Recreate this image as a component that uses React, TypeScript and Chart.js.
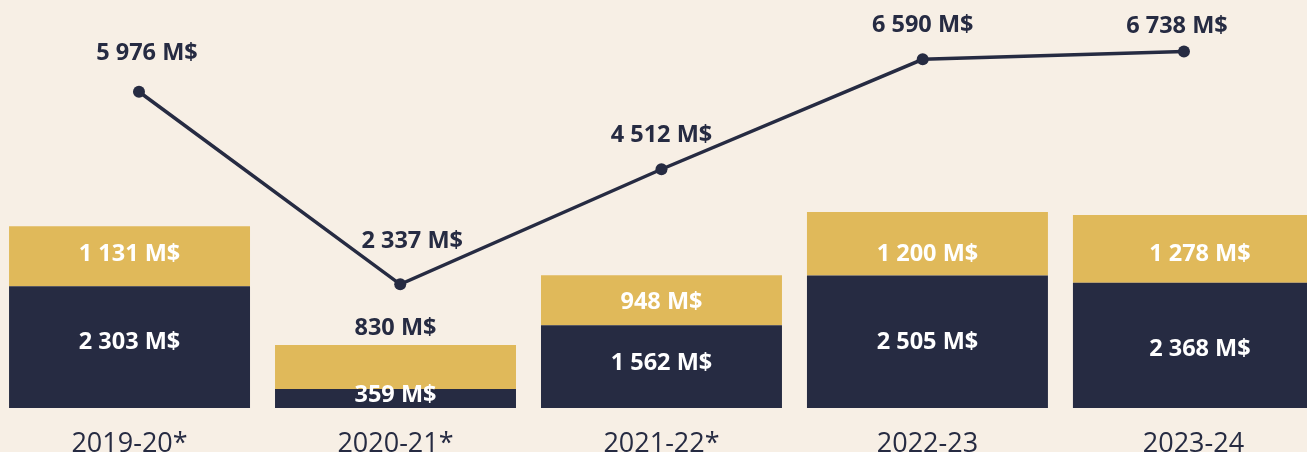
import React, { useEffect, useRef } from "react";
import { Chart, registerables } from "chart.js";

Chart.register(...registerables);

const categories = ["2019-20*", "2020-21*", "2021-22*", "2022-23", "2023-24"];
const baseValues = [2303, 359, 1562, 2505, 2368];
const topValues = [1131, 830, 948, 1200, 1278];
const totalValues = [5976, 2337, 4512, 6590, 6738];

const NAVY = "#262B42";
const GOLD = "#E0B95A";
const BG = "#F7EFE5";
const FONT = "'Open Sans', 'Noto Sans', sans-serif";

// label nudges (style only, in px)
const TEXT_SHIFT = 2.5;
const lineLabelDx = [8, 12, 0, 0, -7];
const lineLabelDy = [41, 46, 36, 36, 27.5];
const baseLabelDy = [-7, -6, -6, -2, 1.5];
const topLabelDy = [-4, 0, 0, 8, 2.5];
const barLabelDx = [0, 0, 0, 0, 6.5];

const fmt = (v: number) => v.toString().replace(/\B(?=(\d{3})+(?!\d))/g, " ") + " M$";

const labelPlugin = {
  id: "valueLabels",
  afterDatasetsDraw(chart: any) {
    const ctx = chart.ctx;
    ctx.save();
    ctx.font = `bold 23.5px ${FONT}`;
    ctx.textAlign = "center";
    ctx.textBaseline = "middle";
    [0, 1].forEach((di) => {
      const meta = chart.getDatasetMeta(di);
      const vals = chart.data.datasets[di].rawValues as number[];
      const dys = di === 0 ? baseLabelDy : topLabelDy;
      meta.data.forEach((el: any, i: number) => {
        const { x, y, base } = el.getProps(["x", "y", "base"], true);
        const h = base - y;
        if (di === 1 && h < 47) {
          ctx.fillStyle = NAVY;
          ctx.fillText(fmt(vals[i]), x + barLabelDx[i], y - 19.5 + TEXT_SHIFT);
        } else {
          ctx.fillStyle = "#FFFFFF";
          ctx.fillText(fmt(vals[i]), x + barLabelDx[i], (y + base) / 2 + dys[i] + TEXT_SHIFT);
        }
      });
    });
    const lmeta = chart.getDatasetMeta(2);
    lmeta.data.forEach((el: any, i: number) => {
      ctx.fillStyle = NAVY;
      ctx.fillText(fmt(totalValues[i]), el.x + lineLabelDx[i], el.y - lineLabelDy[i] + TEXT_SHIFT);
    });
    ctx.restore();
  },
};

export default function App() {
  const ref = useRef<HTMLCanvasElement>(null);
  useEffect(() => {
    if (!ref.current) return;
    const chart = new Chart(ref.current, {
      type: "bar",
      data: {
        datasets: [
          {
            type: "bar",
            indexAxis: "x",
            data: baseValues.map((v, i) => ({ x: i, y: v })),
            rawValues: baseValues,
            backgroundColor: NAVY,
            borderWidth: 0,
            categoryPercentage: 1,
            barPercentage: 0.906,
            order: 2,
            xAxisID: "x",
            yAxisID: "y",
          } as any,
          {
            type: "bar",
            indexAxis: "x",
            data: topValues.map((v, i) => ({ x: i, y: v })),
            rawValues: topValues,
            backgroundColor: GOLD,
            borderWidth: 0,
            categoryPercentage: 1,
            barPercentage: 0.906,
            order: 2,
            xAxisID: "x",
            yAxisID: "y",
          } as any,
          {
            type: "line",
            indexAxis: "x",
            data: totalValues.map((v, i) => ({ x: i, y: v })),
            borderColor: NAVY,
            borderWidth: 3.5,
            pointRadius: 6,
            pointBackgroundColor: NAVY,
            pointBorderColor: NAVY,
            pointBorderWidth: 0,
            clip: false,
            order: 0,
            xAxisID: "x2",
            yAxisID: "y",
          } as any,
        ],
      },
      options: {
        indexAxis: "y",
        animation: false,
        responsive: true,
        maintainAspectRatio: false,
        layout: { padding: 0, autoPadding: false },
        plugins: { legend: { display: false }, tooltip: { enabled: false } },
        scales: {
          x: {
            type: "linear",
            axis: "x",
            position: "bottom",
            min: -0.487,
            max: 4.427,
            bounds: "data",
            offset: false,
            stacked: true,
            beginAtZero: false,
            grid: { display: false, offset: false },
            border: { display: false },
            afterBuildTicks: (s: any) => {
              s.ticks = categories.map((_, i) => ({ value: i }));
            },
            afterFit: (s: any) => {
              s.height = 44;
              s.paddingLeft = 0;
              s.paddingRight = 0;
            },
            ticks: {
              autoSkip: false,
              maxRotation: 0,
              padding: 12,
              color: NAVY,
              font: { family: FONT, size: 27 },
              callback: (v: any) => categories[Math.round(Number(v))] ?? "",
            },
          },
          x2: {
            type: "linear",
            axis: "x",
            display: false,
            offset: false,
            beginAtZero: false,
            min: -0.532,
            max: 4.471,
            bounds: "data",
            grid: { offset: false },
          },
          y: {
            type: "linear",
            axis: "y",
            display: false,
            stacked: true,
            offset: false,
            grid: { offset: false },
            min: 0,
            max: 7710,
          },
        },
      } as any,
      plugins: [labelPlugin],
    });
    return () => chart.destroy();
  }, []);
  return (
    <div style={{ position: "fixed", left: 0, top: 0, width: 1307, height: 452, background: BG }}>
      <canvas ref={ref} />
    </div>
  );
}
